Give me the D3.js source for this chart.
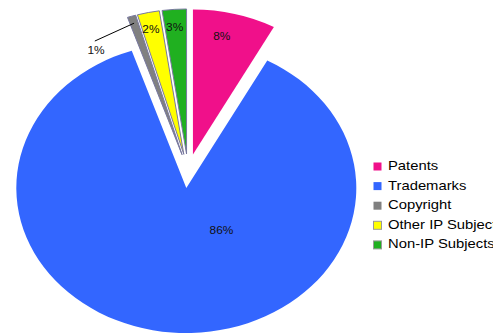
<!DOCTYPE html>
<html><head><meta charset="utf-8">
<script src="https://cdn.jsdelivr.net/npm/d3@7"></script>
<style>body{margin:0;background:#fff}svg{display:block;font-family:"Liberation Sans",Arial,sans-serif}</style>
</head><body>
<svg id="c" width="493" height="334"></svg>
<script>
const categories = ["Patents","Trademarks","Copyright","Other IP Subjects","Non-IP Subjects"];
const values = [7.9, 86.9, 0.8, 2.1, 2.3];
const labels = ["8%","86%","1%","2%","3%"];
const colors = ["#F0108A","#3366FF","#808080","#FFFF00","#20B020"];
const strokes = ["none","none","#7878a0","#7878a0","#7878a0"];
const legendStrokes = ["none","none","none","#999999","#999999"];
// label placement: fraction within slice angle, fraction of radius
const labelAngleFrac = [0.415, 0.3725, -5.76, 0.415, 0.444];
const labelRadiusFrac = [0.83, 0.36, 0.876, 0.88, 0.87];

const svg = d3.select("#c");
const cx = 188, cy = 171, R = 170, k = 145/170, explode = 20;

const pie = d3.pie().sort(null).value(d => d)(values);
const arc = d3.arc().innerRadius(0).outerRadius(R);

const g = svg.append("g").attr("transform", `translate(${cx},${cy}) scale(1,${k})`);
pie.forEach((p, i) => {
  const mid = (p.startAngle + p.endAngle) / 2;
  const ox = explode * Math.sin(mid), oy = -explode * Math.cos(mid);
  const sg = g.append("g").attr("transform", `translate(${ox},${oy})`);
  sg.append("path").attr("d", arc(p)).attr("fill", colors[i])
    .attr("stroke", strokes[i]).attr("stroke-width", strokes[i] === "none" ? 0 : 1)
    .attr("vector-effect", "non-scaling-stroke");
});

// labels in screen space
pie.forEach((p, i) => {
  const mid = (p.startAngle + p.endAngle) / 2;
  const ox = explode * Math.sin(mid), oy = -explode * Math.cos(mid);
  const a = p.startAngle + labelAngleFrac[i] * (p.endAngle - p.startAngle);
  const r = labelRadiusFrac[i] * R;
  const x = cx + ox + r * Math.sin(a);
  const y = cy + (oy - r * Math.cos(a)) * k;
  svg.append("text").attr("transform", `translate(${x},${y}) scale(1.08,1)`)
    .attr("text-anchor", "middle")
    .attr("dominant-baseline", "middle").attr("font-size", 11).attr("fill", "#111")
    .text(labels[i]);
  if (i === 2) {
    const a1 = mid - 0.278, r1 = 0.937 * R;
    const a2 = mid, r2 = 0.95 * R;
    svg.append("line")
      .attr("x1", cx + ox + r1 * Math.sin(a1)).attr("y1", cy + (oy - r1 * Math.cos(a1)) * k)
      .attr("x2", cx + ox + r2 * Math.sin(a2)).attr("y2", cy + (oy - r2 * Math.cos(a2)) * k)
      .attr("stroke", "#000").attr("stroke-width", 1);
  }
});

// legend
const lg = svg.append("g").attr("transform", "translate(373,162)");
categories.forEach((c, i) => {
  const row = lg.append("g").attr("transform", `translate(0,${i * 19.6})`);
  row.append("rect").attr("x", 0.5).attr("y", 0.5).attr("width", 8).attr("height", 8)
    .attr("fill", colors[i]).attr("stroke", legendStrokes[i]).attr("stroke-width", 1);
  row.append("text").attr("transform", "translate(15,4.5) scale(1.14,1)")
    .attr("dominant-baseline", "middle")
    .attr("font-size", 13).attr("fill", "#000").text(c);
});
</script>
</body></html>
